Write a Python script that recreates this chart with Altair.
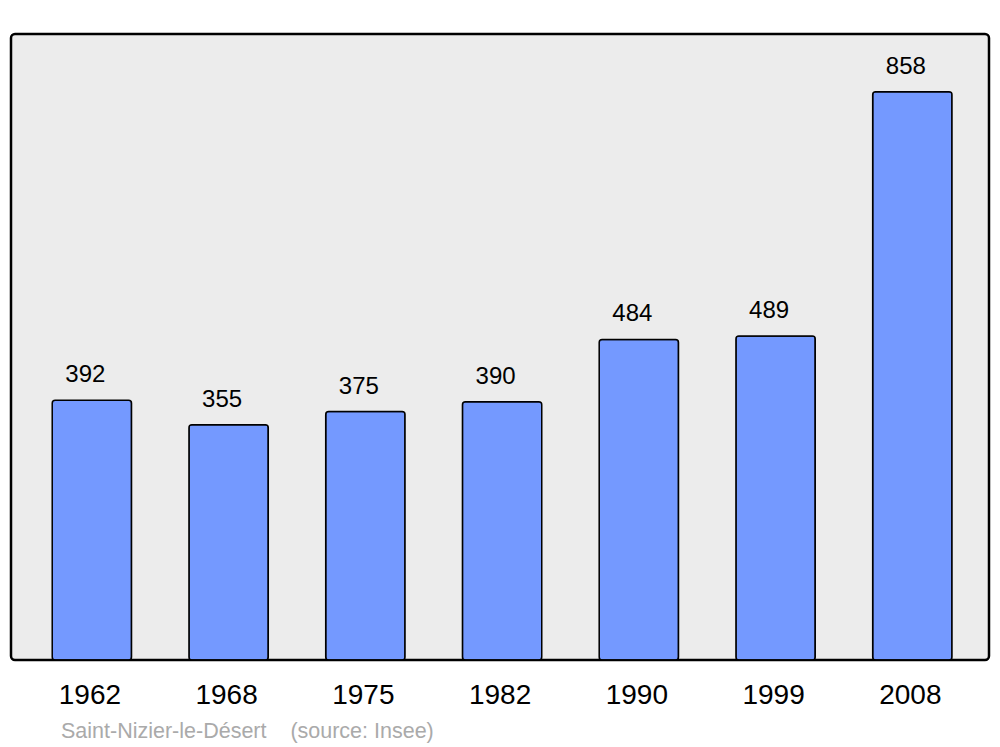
import altair as alt
import pandas as pd

years = ["1962", "1968", "1975", "1982", "1990", "1999", "2008"]
population = [392, 355, 375, 390, 484, 489, 858]

df = pd.DataFrame({"year": years, "pop": population})

FONT = "Liberation Sans"

x = alt.X(
    "year:N",
    sort=years,
    title=None,
    scale=alt.Scale(range=[12.5, 969.7], paddingInner=0.42, paddingOuter=0.21),
    axis=alt.Axis(
        labelAngle=0, labelFontSize=28, labelFont=FONT, labelColor="black",
        domain=False, ticks=False, labelPadding=21, labelOffset=-2,
    ),
)
y = alt.Y("pop:Q", title=None, scale=alt.Scale(domain=[0, 945], nice=False), axis=None)

bars = alt.Chart(df).mark_bar(
    color="#7499ff", stroke="black", strokeWidth=1.5, cornerRadius=3
).encode(x=x, y=y)

labels = alt.Chart(df).mark_text(
    baseline="alphabetic", dy=-18, dx=-6.5, fontSize=24, font=FONT, color="black"
).encode(x=x, y=y, text="pop:Q")

chart = (
    alt.layer(bars, labels)
    .properties(
        width=978,
        height=626,
        autosize=alt.AutoSizeParams(type="none"),
        padding={"left": 3, "top": 26, "right": 3, "bottom": 88},
        title=alt.TitleParams(
            "Saint-Nizier-le-Désert\u00a0\u00a0\u00a0\u00a0(source: Insee)",
            orient="bottom", anchor="start", color="#aaaaaa", fontSize=21.5,
            fontWeight="normal", font=FONT, offset=12, dx=50,
        ),
    )
    .configure(background="white")
    .configure_view(fill="#ececec", stroke="black", strokeWidth=2.5, cornerRadius=4)
)

chart.save("out.html", embed_options={"renderer": "svg", "actions": False})
